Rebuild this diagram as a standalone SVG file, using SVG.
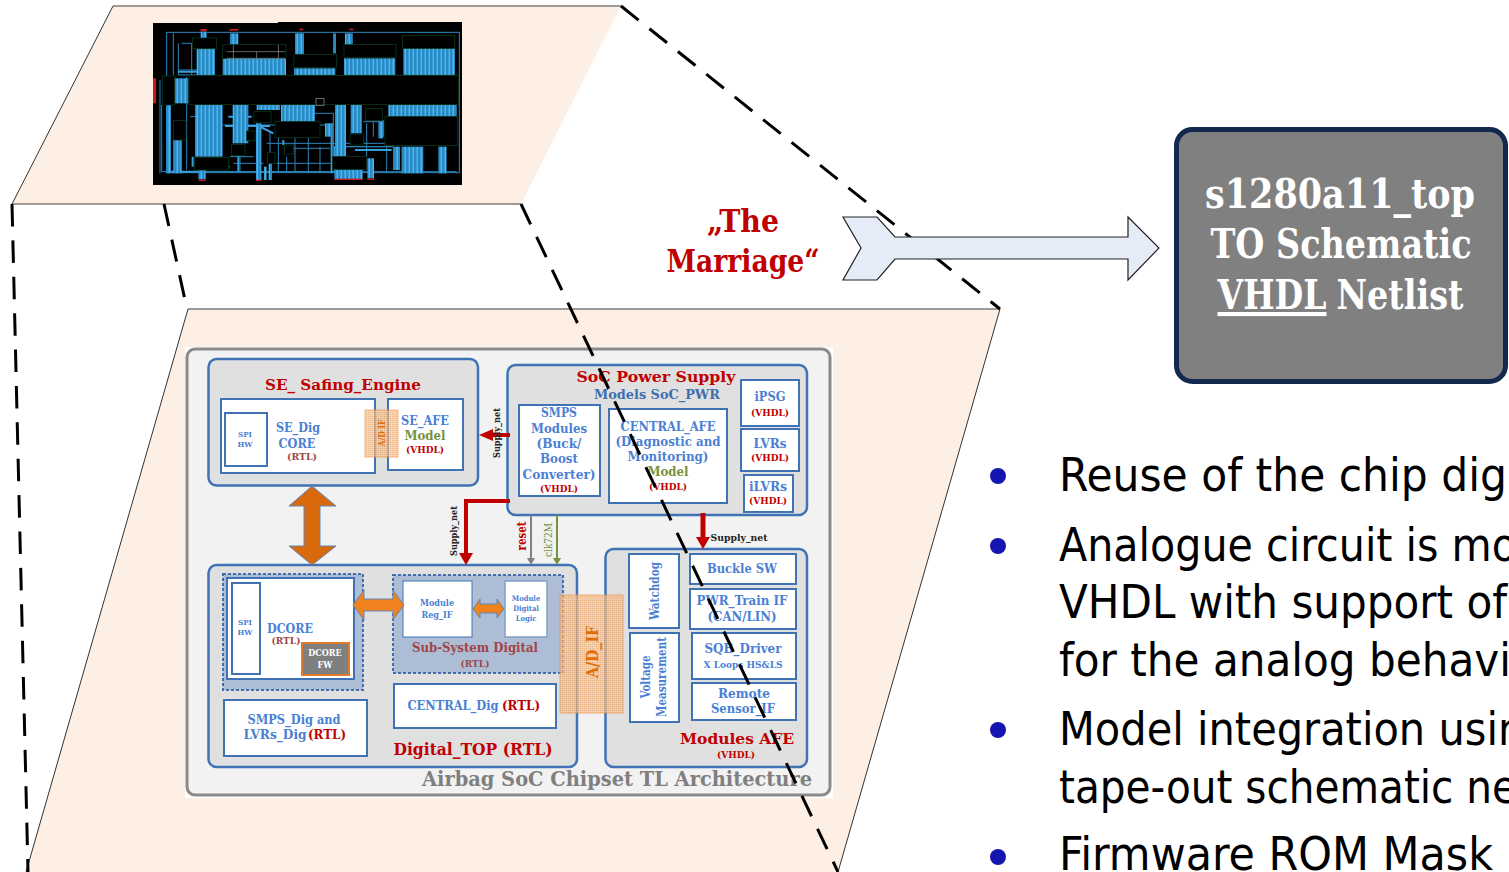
<svg xmlns="http://www.w3.org/2000/svg" width="1509" height="872" viewBox="0 0 1509 872">
<style>
text{font-family:"DejaVu Serif Condensed","DejaVu Serif","Liberation Serif",serif;font-weight:700;text-anchor:middle}
.b{fill:#4a7fd4}.r{fill:#c00000}.g{fill:#76923c}.m{fill:#a04545}.d{fill:#3f6fb0}
.bk{fill:#e0e0e0;stroke:#3f73b5;stroke-width:2.5}
.w{fill:#fff;stroke:#3f73b5;stroke-width:2}
.dt{fill:#adbdd6;stroke:#3f6fb0;stroke-width:2;stroke-dasharray:3 2}
.dash{fill:none;stroke:#000;stroke-width:3;stroke-dasharray:22.500 13.900}
text.body{font-family:"DejaVu Sans Condensed","DejaVu Sans",sans-serif;font-weight:400;font-size:47px;fill:#000;text-anchor:start}
.k{fill:#000;stroke:#0c3a1c;stroke-width:2.500}
.s{fill:url(#st)}
.t{fill:none;stroke:#2d86bd;stroke-width:3}
.t2{fill:none;stroke:#38a0dc;stroke-width:6}
</style>
<defs>
<pattern id="st" width="12" height="10" patternUnits="userSpaceOnUse"><rect width="12" height="10" fill="#2f93cf"/><rect x="2" width="4" height="10" fill="#4cb6ec"/><rect x="8" width="2" height="10" fill="#2377ab"/></pattern>
<pattern id="ht" width="2" height="2" patternUnits="userSpaceOnUse"><rect width="2" height="2" fill="#f4c49a"/><rect width="1" height="1" fill="#e89a55"/></pattern>
<filter id="bl" x="0" y="0" width="1" height="1"><feGaussianBlur stdDeviation="1.500"/></filter>
</defs>

<g id="plane-top"><polygon points="113,6 621,6 521,204 12,204" fill="#fdefe4"/><path d="M113,6H621M12,204H521" stroke="#7d7d7d" stroke-width="1.500" fill="none"/><path d="M113,6L12,204" stroke="#333" stroke-width="1" fill="none"/></g>

<g id="layout">
<rect x="153" y="23" width="125" height="162" fill="#000"/><rect x="278" y="22" width="184" height="163" fill="#000"/>
<g transform="scale(.33333)" filter="url(#bl)">
<rect x="500" y="97" width="878" height="421" class="t"/>
<path class="t" d="M485,315V515H1370M535,130V225H640M520,100V225M570,350H590M670,375H1000M800,430H1180M830,490H1000M925,415V515M850,340H1000V470M860,470V515M1030,440H1180M1100,370V470M480,240V520M1150,360V410M600,515H1000M720,470V515M770,370V515M535,210H645M545,130H575M575,130V225M560,230V510M590,500H690M700,490H790M690,470H760M835,410V515M885,415V515M960,440V515M1000,440H1180M810,395V515M1090,365H1150M1120,365V410M880,445H990M500,515H600M1160,440V515"/>
<path class="t2" d="M685,350H755M675,378H810M700,405H760M770,375L820,400M995,370V520M1005,440V520M535,215H610M1065,450H1175M578,470V500M715,470V515M850,420V435M510,515H600"/>
<g class="s">
<rect x="668" y="175" width="190" height="50"/><rect x="882" y="205" width="124" height="20"/><rect x="1032" y="175" width="154" height="50"/><rect x="1210" y="145" width="155" height="80"/><rect x="590" y="145" width="55" height="80"/><rect x="885" y="100" width="27" height="65"/><rect x="1000" y="100" width="8" height="60"/><rect x="690" y="100" width="25" height="35"/><rect x="602" y="95" width="18" height="20"/><rect x="1035" y="100" width="23" height="35"/>
<rect x="585" y="315" width="83" height="155"/><rect x="698" y="315" width="47" height="115"/><rect x="843" y="315" width="102" height="50"/><rect x="1005" y="315" width="33" height="155"/><rect x="1052" y="315" width="33" height="85"/><rect x="1165" y="315" width="205" height="35"/><rect x="1205" y="440" width="65" height="80"/><rect x="1315" y="440" width="25" height="80"/><rect x="1180" y="440" width="20" height="70"/><rect x="498" y="315" width="15" height="205"/><rect x="520" y="420" width="25" height="100"/><rect x="525" y="235" width="40" height="75"/><rect x="770" y="315" width="70" height="15"/><rect x="1003" y="508" width="85" height="30"/><rect x="595" y="510" width="22" height="28"/><rect x="1102" y="475" width="20" height="60"/><rect x="768" y="370" width="16" height="170"/><rect x="1135" y="365" width="15" height="50"/><rect x="975" y="370" width="22" height="40"/><rect x="792" y="500" width="8" height="40"/><rect x="806" y="490" width="10" height="50"/>
</g>
<g class="k">
<rect x="487" y="228" width="37" height="87"/><rect x="567" y="226" width="808" height="87"/><rect x="577" y="114" width="73" height="32"/><rect x="668" y="134" width="190" height="41"/><rect x="882" y="163" width="128" height="40"/><rect x="1032" y="134" width="156" height="39"/><rect x="1208" y="106" width="156" height="39"/><rect x="520" y="362" width="38" height="58"/><rect x="762" y="335" width="51" height="32"/><rect x="825" y="365" width="135" height="47"/><rect x="1097" y="326" width="50" height="36"/><rect x="1155" y="350" width="217" height="87"/><rect x="1050" y="402" width="40" height="33"/><rect x="740" y="393" width="25" height="29"/><rect x="695" y="434" width="40" height="32"/><rect x="583" y="472" width="102" height="38"/><rect x="853" y="435" width="27" height="27"/><rect x="802" y="458" width="23" height="32"/><rect x="997" y="470" width="103" height="38"/>
</g>
<path d="M680,155H855M680,175H855M700,135V175M770,155V175M835,135V175" stroke="#999" stroke-width="2" fill="none"/>
<rect x="948" y="296" width="24" height="20" fill="none" stroke="#999" stroke-width="2"/>
<g fill="#d01818"><rect x="459" y="235" width="9" height="75"/><rect x="602" y="87" width="18" height="7"/><rect x="688" y="87" width="27" height="5"/><rect x="1003" y="536" width="85" height="4"/><rect x="1102" y="536" width="20" height="4"/><rect x="595" y="539" width="22" height="4"/><rect x="768" y="539" width="16" height="4"/><rect x="898" y="86" width="12" height="5"/><rect x="1048" y="86" width="12" height="5"/></g>
</g>
</g>

<g id="plane-bottom"><polygon points="188,309 1000,309 838,872 26,872" fill="#fdefe4"/><path d="M188,309H1000" stroke="#7d7d7d" stroke-width="1.500" fill="none"/><path d="M188,309L26,872M1000,309L838,872" stroke="#333" stroke-width="1" fill="none"/></g>

<g id="architecture">
<rect x="185" y="347" width="648" height="451" fill="#fff"/>
<rect x="187" y="349" width="643" height="446" rx="8" fill="#f2f2f2" stroke="#8a8a8a" stroke-width="3"/>
</g>

<g id="se-engine">
<rect x="208.500" y="359" width="269.500" height="126.500" rx="8" class="bk"/>
<text x="343" y="390" font-size="15.500" class="r" textLength="156" lengthAdjust="spacingAndGlyphs">SE_ Safing_Engine</text>
<rect x="221" y="399" width="154" height="74" class="w"/>
<rect x="225" y="413" width="42" height="53" class="w"/>
<text x="245" y="437" font-size="8" class="b">SPI</text><text x="245" y="447" font-size="8" class="b">HW</text>
<text x="298" y="432" font-size="13" class="b" textLength="44" lengthAdjust="spacingAndGlyphs">SE_Dig</text>
<text x="297" y="448" font-size="13" class="b" textLength="37" lengthAdjust="spacingAndGlyphs">CORE</text>
<text x="302" y="460" font-size="9.500" class="m" textLength="30" lengthAdjust="spacingAndGlyphs">(RTL)</text>
<rect x="388" y="399" width="75" height="71" class="w"/>
<text x="425" y="425" font-size="13" class="b" textLength="48" lengthAdjust="spacingAndGlyphs">SE_AFE</text>
<text x="425" y="440" font-size="13" class="g" textLength="41" lengthAdjust="spacingAndGlyphs">Model</text>
<text x="425" y="453" font-size="9.500" class="r" textLength="38" lengthAdjust="spacingAndGlyphs">(VHDL)</text>
<rect x="365" y="410" width="33" height="47" fill="url(#ht)" stroke="#e8964e" opacity=".7"/>
<text transform="translate(385,433) rotate(-90)" font-size="8.500" fill="#e36c0a">A/D IF</text>
</g>

<g id="power-supply">
<rect x="507.500" y="365" width="299.500" height="150" rx="8" class="bk"/>
<text x="656" y="382" font-size="15.500" class="r" textLength="159" lengthAdjust="spacingAndGlyphs">SoC Power Supply</text>
<text x="657" y="399" font-size="13" class="d" textLength="126" lengthAdjust="spacingAndGlyphs">Models SoC_PWR</text>
<rect x="519" y="405" width="81" height="91" class="w"/>
<text x="559" y="417" font-size="12.500" class="b" textLength="36" lengthAdjust="spacingAndGlyphs">SMPS</text>
<text x="559" y="433" font-size="12.500" class="b" textLength="56" lengthAdjust="spacingAndGlyphs">Modules</text>
<text x="559" y="448" font-size="12.500" class="b" textLength="45" lengthAdjust="spacingAndGlyphs">(Buck/</text>
<text x="559" y="463" font-size="12.500" class="b" textLength="38" lengthAdjust="spacingAndGlyphs">Boost</text>
<text x="559" y="479" font-size="12.500" class="b" textLength="73" lengthAdjust="spacingAndGlyphs">Converter)</text>
<text x="559" y="492" font-size="9.500" class="r" textLength="38" lengthAdjust="spacingAndGlyphs">(VHDL)</text>
<rect x="609" y="409" width="118" height="94" class="w"/>
<text x="668" y="431" font-size="12.500" class="b" textLength="95" lengthAdjust="spacingAndGlyphs">CENTRAL_AFE</text>
<text x="668" y="446" font-size="12.500" class="b" textLength="105" lengthAdjust="spacingAndGlyphs">(Diagnostic and</text>
<text x="668" y="461" font-size="12.500" class="b" textLength="81" lengthAdjust="spacingAndGlyphs">Monitoring)</text>
<text x="668" y="476" font-size="12.500" class="g" textLength="41" lengthAdjust="spacingAndGlyphs">Model</text>
<text x="668" y="490" font-size="9.500" class="r" textLength="38" lengthAdjust="spacingAndGlyphs">(VHDL)</text>
<rect x="741" y="380" width="58" height="46" class="w"/>
<text x="770" y="401" font-size="12.500" class="b" textLength="31" lengthAdjust="spacingAndGlyphs">iPSG</text>
<text x="770" y="416" font-size="9.500" class="r" textLength="38" lengthAdjust="spacingAndGlyphs">(VHDL)</text>
<rect x="741" y="429" width="58" height="42" class="w"/>
<text x="770" y="448" font-size="12.500" class="b" textLength="33" lengthAdjust="spacingAndGlyphs">LVRs</text>
<text x="770" y="461" font-size="9.500" class="r" textLength="38" lengthAdjust="spacingAndGlyphs">(VHDL)</text>
<rect x="744" y="475" width="49" height="37" class="w"/>
<text x="768" y="491" font-size="12.500" class="b" textLength="38" lengthAdjust="spacingAndGlyphs">iLVRs</text>
<text x="768" y="504" font-size="9.500" class="r" textLength="38" lengthAdjust="spacingAndGlyphs">(VHDL)</text>
</g>

<g id="digital-top">
<rect x="208.500" y="565" width="368.500" height="202" rx="8" class="bk"/>
<rect x="223" y="574" width="140" height="116" class="dt"/>
<rect x="227" y="578" width="127" height="101" class="w"/>
<rect x="232" y="583" width="28" height="91" class="w"/>
<text x="245" y="625" font-size="8" class="b">SPI</text><text x="245" y="635" font-size="8" class="b">HW</text>
<text x="290" y="633" font-size="13" class="b" textLength="46" lengthAdjust="spacingAndGlyphs">DCORE</text>
<text x="286" y="644" font-size="9.500" class="m" textLength="29" lengthAdjust="spacingAndGlyphs">(RTL)</text>
<rect x="302" y="643" width="47" height="32" fill="#7f7f7f" stroke="#e07b2a" stroke-width="2"/>
<text x="325" y="656" font-size="9" fill="#fff">DCORE</text><text x="325" y="668" font-size="9" fill="#fff">FW</text>
<rect x="393" y="575" width="170" height="98" class="dt"/>
<rect x="403" y="581" width="69" height="56" fill="#fff" stroke="#3f73b5"/>
<text x="437" y="606" font-size="9" class="b">Module</text><text x="437" y="618" font-size="9" class="b">Reg_IF</text>
<rect x="505" y="581" width="42" height="56" fill="#fff" stroke="#7f9fc8" stroke-width="1.500"/>
<text x="526" y="601" font-size="7.500" class="b">Module</text><text x="526" y="611" font-size="7.500" class="b">Digital</text><text x="526" y="621" font-size="7.500" class="b">Logic</text>
<text x="475" y="652" font-size="12.500" class="m" textLength="126" lengthAdjust="spacingAndGlyphs">Sub-System Digital</text>
<text x="475" y="667" font-size="9.500" class="m" textLength="29" lengthAdjust="spacingAndGlyphs">(RTL)</text>
<rect x="224" y="700" width="143" height="56" class="w"/>
<text x="294" y="724" font-size="12.500" class="b" textLength="93" lengthAdjust="spacingAndGlyphs">SMPS_Dig and</text>
<text x="275" y="739" font-size="12.500" class="b" textLength="63" lengthAdjust="spacingAndGlyphs">LVRs_Dig</text>
<text x="327" y="739" font-size="12.500" class="r" textLength="38" lengthAdjust="spacingAndGlyphs">(RTL)</text>
<rect x="394" y="684" width="162" height="44" class="w"/>
<text x="453" y="710" font-size="12.500" class="b" textLength="91" lengthAdjust="spacingAndGlyphs">CENTRAL_Dig</text>
<text x="521" y="710" font-size="12.500" class="r" textLength="38" lengthAdjust="spacingAndGlyphs">(RTL)</text>
<text x="473" y="755" font-size="16.500" class="r" textLength="159" lengthAdjust="spacingAndGlyphs">Digital_TOP (RTL)</text>
</g>

<g id="modules-afe">
<rect x="605.500" y="549" width="201.500" height="218" rx="8" class="bk"/>
<rect x="629" y="554" width="50" height="74" class="w"/>
<text transform="translate(659,591) rotate(-90)" font-size="12.500" class="b" textLength="58" lengthAdjust="spacingAndGlyphs">Watchdog</text>
<rect x="630" y="633" width="49" height="89" class="w"/>
<text transform="translate(650,677) rotate(-90)" font-size="12.500" class="b" textLength="43" lengthAdjust="spacingAndGlyphs">Voltage</text>
<text transform="translate(666,677) rotate(-90)" font-size="12.500" class="b" textLength="80" lengthAdjust="spacingAndGlyphs">Measurement</text>
<rect x="690" y="554" width="106" height="30" class="w"/>
<text x="742" y="573" font-size="12.500" class="b" textLength="70" lengthAdjust="spacingAndGlyphs">Buckle SW</text>
<rect x="690" y="589" width="106" height="40" class="w"/>
<text x="742" y="605" font-size="12.500" class="b" textLength="91" lengthAdjust="spacingAndGlyphs">PWR_Train IF</text>
<text x="742" y="621" font-size="12.500" class="b" textLength="69" lengthAdjust="spacingAndGlyphs">(CAN/LIN)</text>
<rect x="692" y="633" width="104" height="46" class="w"/>
<text x="743" y="653" font-size="12.500" class="b" textLength="77" lengthAdjust="spacingAndGlyphs">SQB_Driver</text>
<text x="743" y="668" font-size="9" class="b" textLength="79" lengthAdjust="spacingAndGlyphs">X Loops HS&amp;LS</text>
<rect x="692" y="683" width="104" height="37" class="w"/>
<text x="744" y="698" font-size="12.500" class="b" textLength="52" lengthAdjust="spacingAndGlyphs">Remote</text>
<text x="743" y="713" font-size="12.500" class="b" textLength="64" lengthAdjust="spacingAndGlyphs">Sensor_IF</text>
<text x="737" y="744" font-size="15.500" class="r" textLength="114" lengthAdjust="spacingAndGlyphs">Modules AFE</text>
<text x="736" y="758" font-size="9.500" class="r" textLength="38" lengthAdjust="spacingAndGlyphs">(VHDL)</text>
</g>

<g id="ad-if">
<rect x="560" y="595" width="63" height="118" fill="url(#ht)" stroke="#e8964e" opacity=".72"/>
<text transform="translate(598,652) rotate(-90)" font-size="16.500" fill="#e36c0a" textLength="52" lengthAdjust="spacingAndGlyphs">A/D_IF</text>
</g>

<g id="title"><text x="617" y="786" font-size="19.500" fill="#7f7f7f" textLength="390" lengthAdjust="spacingAndGlyphs">Airbag SoC Chipset TL Architecture</text></g>

<g id="connectors">
<polygon points="312,486 336,506 320,506 320,546 336,546 312,565 289,546 304,546 304,506 289,506" fill="#d9690d" stroke="#5f86b8"/>
<polygon points="353,605 364,590 364,599 393,599 393,590 404,605 393,620 393,611 364,611 364,620" fill="#f0821e" stroke="#5f86b8"/>
<polygon points="473,609 480,599 480,604 497,604 497,599 504,609 497,618 497,613 480,613 480,618" fill="#f0821e" stroke="#5f86b8"/>
<path d="M510,435H490" stroke="#c00000" stroke-width="4" fill="none"/><polygon points="479,435 493,429 493,441" fill="#c00000"/>
<path d="M510,501H466V555" stroke="#c00000" stroke-width="4" fill="none"/><polygon points="459,553 473,553 466,565" fill="#c00000"/>
<path d="M703,513V539" stroke="#c00000" stroke-width="5" fill="none"/><polygon points="696,537 710,537 703,549" fill="#c00000"/>
<path d="M531,515V562" stroke="#808080" stroke-width="2" fill="none"/><polygon points="527,558 535,558 531,565" fill="#808080"/>
<path d="M557,515V562" stroke="#76923c" stroke-width="2" fill="none"/><polygon points="553,558 561,558 557,565" fill="#76923c"/>
<text transform="translate(500,433) rotate(-90)" font-size="10" fill="#222" textLength="50" lengthAdjust="spacingAndGlyphs">Supply_net</text>
<text transform="translate(457,531) rotate(-90)" font-size="10" fill="#222" textLength="50" lengthAdjust="spacingAndGlyphs">Supply_net</text>
<text x="739" y="541" font-size="10" fill="#222" textLength="57" lengthAdjust="spacingAndGlyphs">Supply_net</text>
<text transform="translate(526,536) rotate(-90)" font-size="12" class="r" textLength="29" lengthAdjust="spacingAndGlyphs">reset</text>
<text transform="translate(552,540) rotate(-90)" font-size="10.500" class="g" textLength="34" lengthAdjust="spacingAndGlyphs" style="font-weight:400">clk72M</text>
<path class="dash" d="M12,204L28,872"/>
<path class="dash" d="M164,204L185,300"/>
<path class="dash" d="M521,204L838,872"/>
<path class="dash" d="M621,6L1000,309"/>
</g>

<g id="marriage-arrow">
<polygon points="843,217 877,217 895,237 1128,237 1128,217 1159,248 1128,280 1128,259 895,259 877,280 843,280 861,248" fill="#e6ecf7" stroke="#222" stroke-width="1.200"/>
<text x="743" y="232" font-size="31" class="r" textLength="72" lengthAdjust="spacingAndGlyphs">„The</text>
<text x="743" y="272" font-size="31" class="r" textLength="153" lengthAdjust="spacingAndGlyphs">Marriage“</text>
</g>

<g id="netlist-box">
<rect x="1176.500" y="129.500" width="329" height="252" rx="16" fill="#808080" stroke="#12294d" stroke-width="5"/>
<text x="1340" y="208" font-size="41" fill="#fff" textLength="270" lengthAdjust="spacingAndGlyphs">s1280a11_top</text>
<text x="1341" y="258" font-size="41" fill="#fff" textLength="261" lengthAdjust="spacingAndGlyphs">TO Schematic</text>
<text x="1272" y="309" font-size="41" fill="#fff" text-decoration="underline" textLength="109" lengthAdjust="spacingAndGlyphs">VHDL</text>
<text x="1400" y="309" font-size="41" fill="#fff" textLength="127" lengthAdjust="spacingAndGlyphs">Netlist</text>
</g>

<g id="bullets">
<g fill="#1515b0"><circle cx="998" cy="476" r="8"/><circle cx="998" cy="546" r="8"/><circle cx="998" cy="730" r="8"/><circle cx="998" cy="857" r="8"/></g>
<text class="body" x="1059" y="491" textLength="448" lengthAdjust="spacingAndGlyphs">Reuse of the chip dig</text>
<text class="body" x="1059" y="561" textLength="458" lengthAdjust="spacingAndGlyphs">Analogue circuit is mo</text>
<text class="body" x="1059" y="618" textLength="448" lengthAdjust="spacingAndGlyphs">VHDL with support of</text>
<text class="body" x="1059" y="676" textLength="452" lengthAdjust="spacingAndGlyphs">for the analog behavi</text>
<text class="body" x="1059" y="745" textLength="456" lengthAdjust="spacingAndGlyphs">Model integration usir</text>
<text class="body" x="1059" y="803" textLength="458" lengthAdjust="spacingAndGlyphs">tape-out schematic ne</text>
<text class="body" x="1059" y="870" textLength="434" lengthAdjust="spacingAndGlyphs">Firmware ROM Mask</text>
</g>
</svg>
